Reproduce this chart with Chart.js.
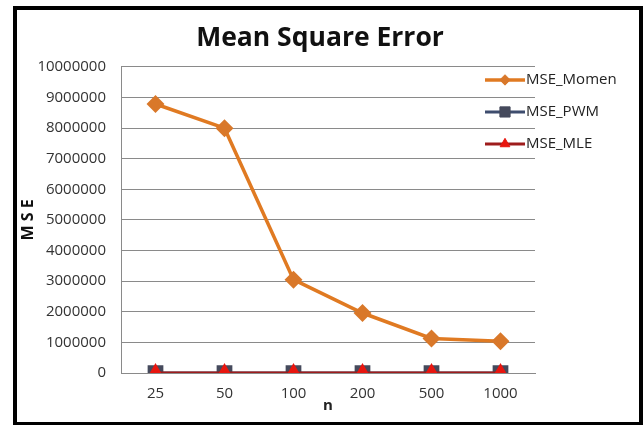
<!DOCTYPE html>
<html>
<head>
<meta charset="utf-8">
<script src="https://cdn.jsdelivr.net/npm/chart.js@4"></script>
<style>
  html, body { margin: 0; padding: 0; background: #fff; }
  #wrap { width: 643px; height: 425px; }
</style>
</head>
<body>
<div id="wrap"><canvas id="chart" width="643" height="425"></canvas></div>
<script>
const nLabels = ['25', '50', '100', '200', '500', '1000']
const mseMomen = [8790000, 8000000, 3050000, 1960000, 1130000, 1040000]
const msePwm = [0, 0, 0, 0, 0, 0]
const mseMle = [0, 0, 0, 0, 0, 0]

const FONT = '"Open Sans", "DejaVu Sans", sans-serif'

// white page with the thick black frame round it
const framePlugin = {
  id: 'frame',
  beforeDraw: (chart) => {
    const { ctx, width, height } = chart
    ctx.save()
    ctx.fillStyle = '#fff'
    ctx.fillRect(0, 0, width, height)
    ctx.strokeStyle = '#000'
    ctx.lineWidth = 4
    ctx.strokeRect(15, 8, width - 17, height - 9)
    ctx.restore()
  },
}

// excel style legend: line with marker, sitting over the top right of the plot
const lineLegend = {
  id: 'lineLegend',
  afterDraw: (chart) => {
    const { ctx, chartArea } = chart
    const x0 = chartArea.right - 50
    ctx.save()
    chart.data.datasets.forEach((ds, i) => {
      const y = chartArea.top + 13 + i * 32
      ctx.strokeStyle = ds.borderColor
      ctx.lineWidth = ds.borderWidth
      ctx.beginPath()
      ctx.moveTo(x0, y)
      ctx.lineTo(x0 + 40, y)
      ctx.stroke()
      ctx.fillStyle = ds.pointBackgroundColor
      ctx.strokeStyle = ds.pointBorderColor
      ctx.lineWidth = 1
      Chart.helpers.drawPoint(ctx, { pointStyle: ds.pointStyle, radius: ds.pointRadius * 0.8, rotation: 0, borderWidth: 1 }, x0 + 20, y)
      ctx.fillStyle = '#222'
      ctx.font = '15px ' + FONT
      ctx.textBaseline = 'middle'
      ctx.textAlign = 'left'
      ctx.fillText(ds.label, x0 + 41, y)
    })
    ctx.restore()
  },
}

new Chart(document.getElementById('chart'), {
  type: 'line',
  data: {
    labels: nLabels,
    datasets: [
      {
        label: 'MSE_Momen',
        data: mseMomen,
        borderColor: '#E07A22',
        borderWidth: 3.5,
        pointStyle: 'rectRot',
        pointRadius: 6.5,
        pointBackgroundColor: '#D9782A',
        pointBorderColor: '#D9782A',
        order: 2,
      },
      {
        label: 'MSE_PWM',
        data: msePwm,
        borderColor: '#3E4D6E',
        borderWidth: 3,
        pointStyle: 'rect',
        pointRadius: 9,
        pointBackgroundColor: '#454A5C',
        pointBorderColor: '#454A5C',
        order: 1,
      },
      {
        label: 'MSE_MLE',
        data: mseMle,
        borderColor: '#9E1C1C',
        borderWidth: 3,
        pointStyle: 'triangle',
        pointRadius: 7,
        pointBackgroundColor: '#E8160F',
        pointBorderColor: '#E8160F',
        order: 0,
      },
    ],
  },
  options: {
    responsive: false,
    animation: false,
    layout: { padding: { left: 18, right: 21, top: 14, bottom: 10 } },
    scales: {
      x: {
        offset: true,
        grid: { display: false, drawTicks: false },
        border: { display: true, color: '#8a8a8a', width: 1 },
        ticks: { color: '#333', padding: 12, font: { family: FONT, size: 15 } },
        title: {
          display: true,
          text: 'n',
          color: '#222',
          padding: { top: 0, bottom: 0 },
          font: { family: FONT, size: 15, weight: 'bold' },
        },
        afterFit: (scale) => { scale.height = 42 },
      },
      y: {
        min: 0,
        max: 10000000,
        grid: { color: '#8a8a8a', lineWidth: 1, drawTicks: false },
        border: { display: true, color: '#8a8a8a', width: 1 },
        ticks: {
          stepSize: 1000000,
          color: '#333',
          padding: 15,
          font: { family: FONT, size: 15 },
          callback: (v) => String(v),
        },
        title: {
          display: true,
          text: 'M S E',
          color: '#111',
          padding: { top: 1, bottom: 0 },
          font: { family: FONT, size: 16, weight: 'bold' },
        },
        afterFit: (scale) => { scale.width = 103 },
      },
      // empty right-hand strip so the legend area is kept free and the title stays centred on the frame
      side: {
        position: 'right',
        display: true,
        grid: { display: false },
        border: { display: false },
        ticks: { display: false },
        afterFit: (scale) => { scale.width = 87 },
      },
    },
    plugins: {
      legend: { display: false },
      tooltip: { enabled: false },
      title: {
        display: true,
        text: 'Mean Square Error',
        color: '#111',
        padding: { top: 9, bottom: 14 },
        font: { family: FONT, size: 26.5, weight: 'bold', lineHeight: 1.13 },
      },
    },
  },
  plugins: [framePlugin, lineLegend],
})
</script>
</body>
</html>
